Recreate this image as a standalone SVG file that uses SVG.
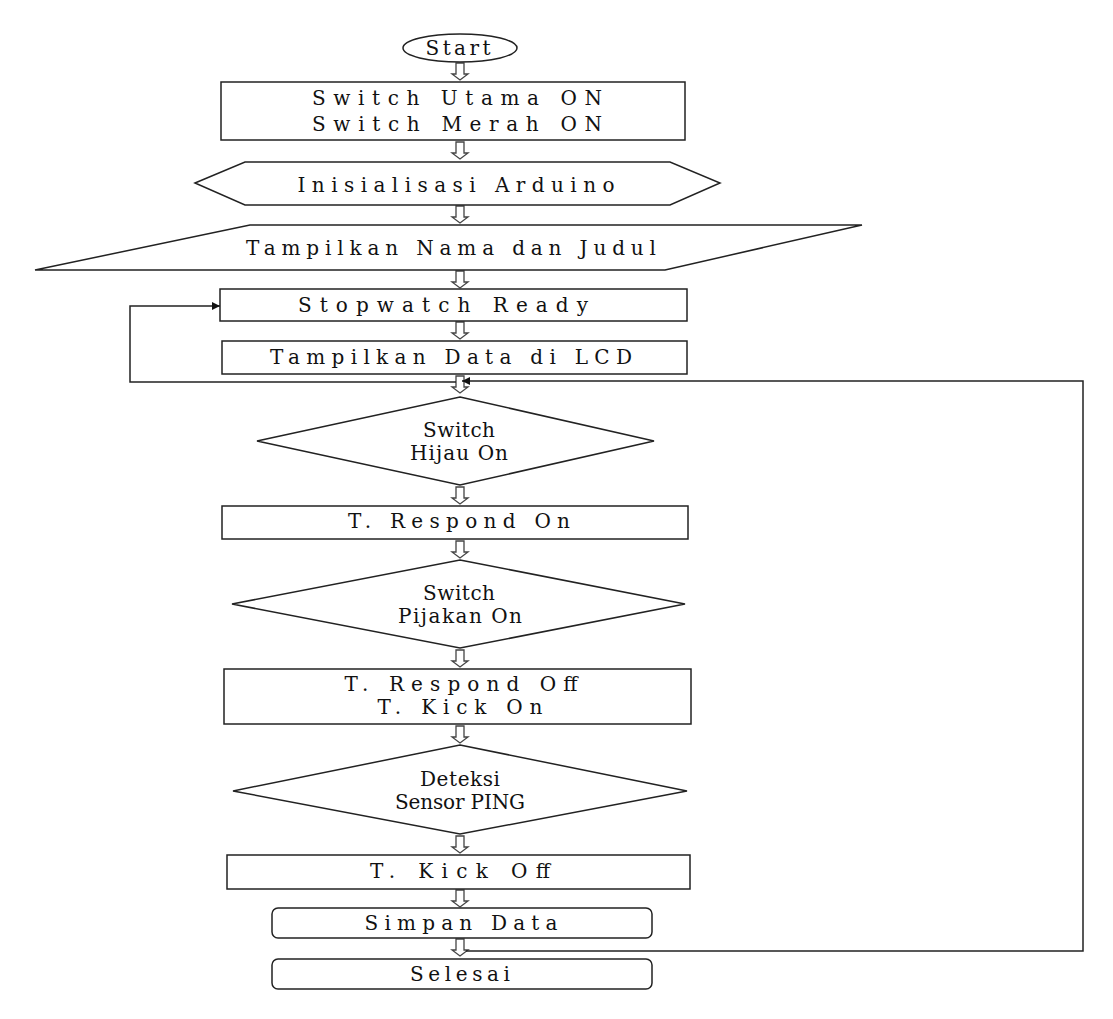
<svg xmlns="http://www.w3.org/2000/svg" xmlns:xlink="http://www.w3.org/1999/xlink" width="1113" height="1019" viewBox="0 0 1113 1019">
<style>
.s{fill:#fff;stroke:#222;stroke-width:1.5}
.t{font-family:'DejaVu Serif','Liberation Serif',serif;font-size:20px;fill:#111;text-anchor:middle}
.ln{fill:none;stroke:#222;stroke-width:1.5}
.ba{fill:#fff;stroke:#444;stroke-width:1.3}
</style>
<defs>
<marker id="ah" viewBox="0 0 10 10" refX="10" refY="5" markerWidth="12" markerHeight="8" markerUnits="userSpaceOnUse" orient="auto"><path d="M0,0 L10,5 L0,10 Z" fill="#111"/></marker>
<path id="blk" d="M-4,0 L4,0 L4,11 L8,11 L0,17 L-8,11 L-4,11 Z"/>
</defs>
<rect width="1113" height="1019" fill="#fff"/>
<g id="connectors">
<use xlink:href="#blk" class="ba" x="460" y="63"/>
<use xlink:href="#blk" class="ba" x="460" y="142"/>
<use xlink:href="#blk" class="ba" x="460" y="206"/>
<use xlink:href="#blk" class="ba" x="460" y="271"/>
<use xlink:href="#blk" class="ba" x="460" y="322"/>
<use xlink:href="#blk" class="ba" x="460" y="376"/>
<use xlink:href="#blk" class="ba" x="460" y="487"/>
<use xlink:href="#blk" class="ba" x="460" y="541"/>
<use xlink:href="#blk" class="ba" x="460" y="650"/>
<use xlink:href="#blk" class="ba" x="460" y="726"/>
<use xlink:href="#blk" class="ba" x="460" y="836"/>
<use xlink:href="#blk" class="ba" x="460" y="890"/>
<use xlink:href="#blk" class="ba" x="460" y="939"/>
<path class="ln" d="M456,382 L130,382 L130,306 L220,306" marker-end="url(#ah)"/>
<path class="ln" d="M466,951 L1083,951 L1083,381 L462,381" marker-end="url(#ah)"/>
</g>
<g id="start"><ellipse class="s" cx="460" cy="48" rx="57" ry="14"/><text class="t" x="458" y="55" textLength="65">Start</text></g>
<g id="switch-utama"><rect class="s" x="221" y="82" width="464" height="58"/><text class="t" x="457" y="105" textLength="290">Switch Utama ON</text><text class="t" x="457" y="131" textLength="290">Switch Merah ON</text></g>
<g id="init"><polygon class="s" points="195,183 245,162 670,162 720,183 670,205 245,205"/><text class="t" x="456" y="192" textLength="317">Inisialisasi Arduino</text></g>
<g id="tampil-nama"><polygon class="s" points="250,225 862,225 665,270 35,270"/><text class="t" x="451" y="255" textLength="410">Tampilkan Nama dan Judul</text></g>
<g id="stopwatch"><rect class="s" x="220" y="289" width="467" height="32"/><text class="t" x="443" y="312" textLength="290">Stopwatch Ready</text></g>
<g id="tampil-data"><rect class="s" x="222" y="341" width="465" height="33"/><text class="t" x="451" y="364" textLength="362">Tampilkan Data di LCD</text></g>
<g id="hijau"><polygon class="s" points="460,397 654,441 460,485 257,441"/><text class="t" x="459" y="437" textLength="72">Switch</text><text class="t" x="459" y="460" textLength="98">Hijau On</text></g>
<g id="respond-on"><rect class="s" x="222" y="506" width="466" height="33"/><text class="t" x="459" y="528" textLength="222">T. Respond On</text></g>
<g id="pijakan"><polygon class="s" points="460,560 685,604 460,648 232,604"/><text class="t" x="459" y="600" textLength="72">Switch</text><text class="t" x="460" y="623" textLength="124">Pijakan On</text></g>
<g id="respond-off"><rect class="s" x="224" y="669" width="467" height="55"/><text class="t" x="461" y="691" textLength="233">T. Respond Off</text><text class="t" x="460" y="714" textLength="165">T. Kick On</text></g>
<g id="ping"><polygon class="s" points="460,745 687,791 460,834 233,791"/><text class="t" x="460" y="786" textLength="80">Deteksi</text><text class="t" x="460" y="809" textLength="130">Sensor PING</text></g>
<g id="kick-off"><rect class="s" x="227" y="855" width="463" height="34"/><text class="t" x="460" y="878" textLength="180">T. Kick Off</text></g>
<g id="simpan"><rect class="s" x="272" y="908" width="380" height="30" rx="6"/><text class="t" x="461" y="930" textLength="193">Simpan Data</text></g>
<g id="selesai"><rect class="s" x="272" y="959" width="380" height="30" rx="6"/><text class="t" x="460" y="981" textLength="100">Selesai</text></g>
</svg>
